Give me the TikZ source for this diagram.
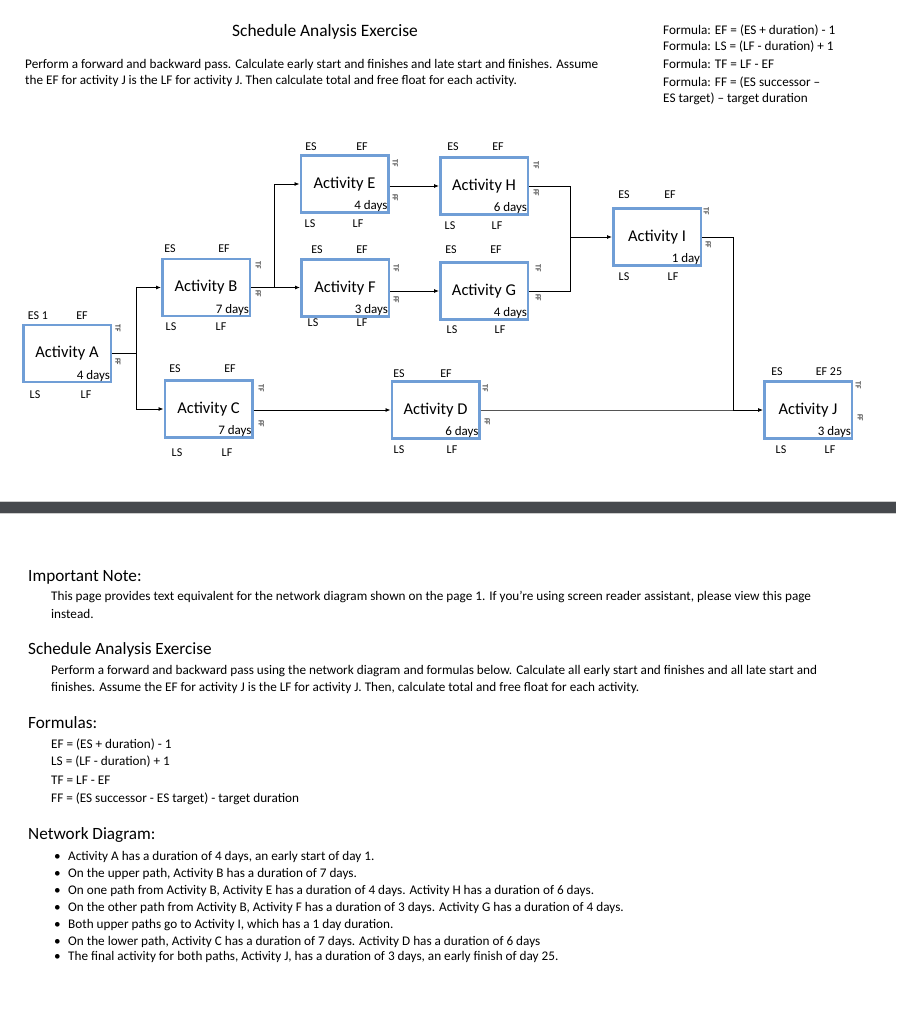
\documentclass[tikz,border=0pt]{standalone}
\usepackage{fontspec}
\setmainfont{Carlito}
\usepackage{tikz}
\usetikzlibrary{arrows.meta,calc}
\definecolor{boxblue}{RGB}{112,158,214}
\definecolor{bardark}{RGB}{70,73,77}
\definecolor{linegray}{RGB}{85,85,85}

\begin{document}
\begin{tikzpicture}[x=1pt,y=-1pt,
act/.style={draw=boxblue,line width=2.5pt,minimum width=87.5pt,minimum height=57pt,inner sep=0,font=\fontsize{16.5}{19}\selectfont},
dur/.style={anchor=south east,inner sep=1.8pt,font=\fontsize{13}{15}\selectfont},
lbl/.style={inner sep=0,font=\fontsize{12}{14}\selectfont},
flt/.style={inner sep=0,rotate=-90,font=\fontsize{7.8}{9}\selectfont},
txt/.style={anchor=west,inner sep=0,font=\fontsize{13.2}{15}\selectfont},
head/.style={anchor=west,inner sep=0,font=\fontsize{17.2}{20}\selectfont},
link/.style={line width=0.8pt,-{Latex[length=5pt,width=4pt]}}]
\useasboundingbox (0,0) rectangle (896,1024);

% header
\node[inner sep=0,font=\fontsize{17.4}{20}\selectfont] (title) at (325,32) {Schedule Analysis Exercise};
\node[txt] (task1) at (25,65) {Perform a forward and backward pass. Calculate early start and finishes and late start and finishes. Assume};
\node[txt] (task2) at (25,81) {the EF for activity J is the LF for activity J. Then calculate total and free float for each activity.};
\node[txt] (fml1) at (663,31) {Formula: EF = (ES + duration) - 1};
\node[txt] (fml2) at (663,47) {Formula: LS = (LF - duration) + 1};
\node[txt] (fml3) at (663,64) {Formula: TF = LF - EF};
\node[txt] (fml4) at (663,83) {Formula: FF = (ES successor --};
\node[txt] (fml5) at (663,99) {ES target) -- target duration};

% activities
\node (vA) at (67,353.5) [act] {Activity A};
\node (vB) at (206,287.5) [act] {Activity B};
\node (vC) at (208.5,409) [act] {Activity C};
\node (vE) at (344.5,184) [act] {Activity E};
\node (vF) at (345,288) [act] {Activity F};
\node (vH) at (484,186) [act] {Activity H};
\node (vG) at (484,291) [act] {Activity G};
\node (vI) at (657,237) [act] {Activity $\mathrm{I}$};
\node (vD) at (435.5,410) [act] {Activity D};
\node (vJ) at (808,410) [act] {Activity J};

\node (dA) at (vA.south east) [dur] {4 days};
\node (dB) at (vB.south east) [dur] {7 days};
\node (dC) at (vC.south east) [dur] {7 days};
\node (dE) at (vE.south east) [dur] {4 days};
\node (dF) at (vF.south east) [dur] {3 days};
\node (dH) at (vH.south east) [dur] {6 days};
\node (dG) at (vG.south east) [dur] {4 days};
\node (dI) at (vI.south east) [dur] {1 day};
\node (dD) at (vD.south east) [dur] {6 days};
\node (dJ) at (vJ.south east) [dur] {3 days};

% A
\node (esA) at (38,316) [lbl] {ES 1};
\node (efA) at (82,316) [lbl] {EF};
\node (lsA) at (35,395) [lbl] {LS};
\node (lfA) at (86,395) [lbl] {LF};
\node (tfA) at (118,328) [flt] {TF};
\node (ffA) at (118,362) [flt] {FF};
% B
\node (esB) at (170,249) [lbl] {ES};
\node (efB) at (224,249) [lbl] {EF};
\node (lsB) at (171,327) [lbl] {LS};
\node (lfB) at (221,327) [lbl] {LF};
\node (tfB) at (258,265) [flt] {TF};
\node (ffB) at (258,294) [flt] {FF};
% C
\node (esC) at (175,369) [lbl] {ES};
\node (efC) at (230,369) [lbl] {EF};
\node (lsC) at (177,453) [lbl] {LS};
\node (lfC) at (227,453) [lbl] {LF};
\node (tfC) at (261,388) [flt] {TF};
\node (ffC) at (261,424) [flt] {FF};
% E
\node (esE) at (311,147) [lbl] {ES};
\node (efE) at (362,147) [lbl] {EF};
\node (lsE) at (310,224) [lbl] {LS};
\node (lfE) at (358,224) [lbl] {LF};
\node (tfE) at (395,163) [flt] {TF};
\node (ffE) at (395,198) [flt] {FF};
% H
\node (esH) at (453,147) [lbl] {ES};
\node (efH) at (498,147) [lbl] {EF};
\node (lsH) at (450,226) [lbl] {LS};
\node (lfH) at (497,226) [lbl] {LF};
\node (tfH) at (536,165) [flt] {TF};
\node (ffH) at (536,193) [flt] {FF};
% F
\node (esF) at (317,250) [lbl] {ES};
\node (efF) at (362,250) [lbl] {EF};
\node (lsF) at (313,323) [lbl] {LS};
\node (lfF) at (362,323) [lbl] {LF};
\node (tfF) at (396,268) [flt] {TF};
\node (ffF) at (396,300) [flt] {FF};
% G
\node (esG) at (451,250) [lbl] {ES};
\node (efG) at (496,250) [lbl] {EF};
\node (lsG) at (452,330) [lbl] {LS};
\node (lfG) at (500,330) [lbl] {LF};
\node (tfG) at (538,268) [flt] {TF};
\node (ffG) at (538,298) [flt] {FF};
% I
\node (esI) at (624,195) [lbl] {ES};
\node (efI) at (670,195) [lbl] {EF};
\node (lsI) at (624,277) [lbl] {LS};
\node (lfI) at (673,277) [lbl] {LF};
\node (tfI) at (706,211) [flt] {TF};
\node (ffI) at (708,245) [flt] {FF};
% D
\node (esD) at (399,374) [lbl] {ES};
\node (efD) at (446,374) [lbl] {EF};
\node (lsD) at (399,450) [lbl] {LS};
\node (lfD) at (452,450) [lbl] {LF};
\node (tfD) at (485,388) [flt] {TF};
\node (ffD) at (487,422) [flt] {FF};
% J
\node (esJ) at (777,372) [lbl] {ES};
\node (efJ) at (829,372) [lbl] {EF 25};
\node (lsJ) at (781,450) [lbl] {LS};
\node (lfJ) at (830,450) [lbl] {LF};
\node (tfJ) at (858,385) [flt] {TF};
\node (ffJ) at (860,418) [flt] {FF};

% connectors
\coordinate (jA) at (136,353.5);
\coordinate (jB) at (274,287.5);
\coordinate (jI) at (570,237);
\coordinate (jJ) at (733,410);

\draw[line width=0.8pt] (vA.east) -- (jA);
\draw[link] (jA) |- (vB.west);
\draw[link] (jA) |- (vC.west);
\draw[link] (vB.east) -- (vB.east -| vF.west);
\draw[link] (jB) |- (vE.west);
\draw[link] (vE.east |- vH.west) -- (vH.west);
\draw[link] (vF.east |- vG.west) -- (vG.west);
\draw[line width=0.8pt] (vH.east) -| (jI);
\draw[line width=0.8pt] (vG.east) -| (jI);
\draw[link] (jI) -- (vI.west);
\draw[link] (vC.east |- vD.west) -- (vD.west);
\draw[line width=0.8pt] (vI.east) -| (jJ);
\draw[line width=0.8pt,linegray] (vD.east) -- (jJ);
\draw[link] (jJ) -- (vJ.west);

% page break bar
\fill[bardark] (0,502) rectangle (896,513);
\draw[black!20,line width=0.6pt] (0,501.5) -- (896,501.5);
\draw[black!20,line width=0.6pt] (0,513.5) -- (896,513.5);

% text page
\node[head] (note) at (28,577) {Important Note:};
\node[txt] (note1) at (51,597) {This page provides text equivalent for the network diagram shown on the page 1. If you’re using screen reader assistant, please view this page};
\node[txt] (note2) at (51,614) {instead.};
\node[head] (sae) at (28,650) {Schedule Analysis Exercise};
\node[txt] (sae1) at (51,671) {Perform a forward and backward pass using the network diagram and formulas below. Calculate all early start and finishes and all late start and};
\node[txt] (sae2) at (51,688) {finishes. Assume the EF for activity J is the LF for activity J. Then, calculate total and free float for each activity.};
\node[head] (fmls) at (28,723) {Formulas:};
\node[txt] (f1) at (51,745) {EF = (ES + duration) - 1};
\node[txt] (f2) at (51,762) {LS = (LF - duration) + 1};
\node[txt] (f3) at (51,780) {TF = LF - EF};
\node[txt] (f4) at (51,799) {FF = (ES successor - ES target) - target duration};
\node[head] (net) at (28,835) {Network Diagram:};
\node[txt] (b1) at (54,857) {\makebox[14pt][l]{\textbullet}Activity A has a duration of 4 days, an early start of day 1.};
\node[txt] (b2) at (54,874) {\makebox[14pt][l]{\textbullet}On the upper path, Activity B has a duration of 7 days.};
\node[txt] (b3) at (54,891) {\makebox[14pt][l]{\textbullet}On one path from Activity B, Activity E has a duration of 4 days. Activity H has a duration of 6 days.};
\node[txt] (b4) at (54,908) {\makebox[14pt][l]{\textbullet}On the other path from Activity B, Activity F has a duration of 3 days. Activity G has a duration of 4 days.};
\node[txt] (b5) at (54,925) {\makebox[14pt][l]{\textbullet}Both upper paths go to Activity I, which has a 1 day duration.};
\node[txt] (b6) at (54,942) {\makebox[14pt][l]{\textbullet}On the lower path, Activity C has a duration of 7 days. Activity D has a duration of 6 days};
\node[txt] (b7) at (54,957) {\makebox[14pt][l]{\textbullet}The final activity for both paths, Activity J, has a duration of 3 days, an early finish of day 25.};

\end{tikzpicture}
\end{document}
